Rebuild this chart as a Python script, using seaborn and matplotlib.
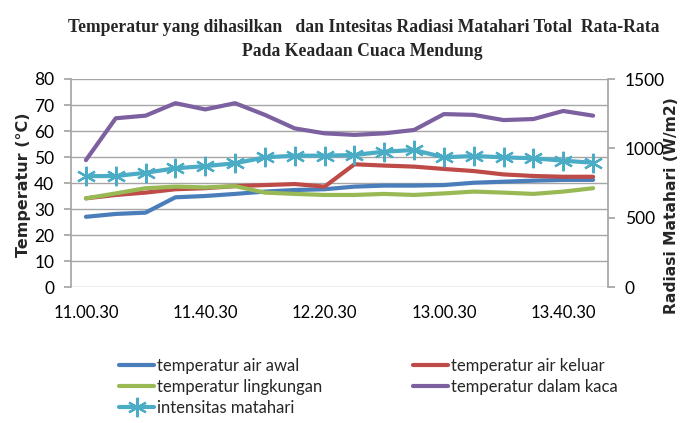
import numpy as np
import pandas as pd
import matplotlib
matplotlib.use('Agg')
import matplotlib.pyplot as plt
import seaborn as sns

# waktu pengukuran (tiap 10 menit)
waktu = ['11.00.30', '11.10.30', '11.20.30', '11.30.30', '11.40.30', '11.50.30',
         '12.00.30', '12.10.30', '12.20.30', '12.30.30', '12.40.30', '12.50.30',
         '13.00.30', '13.10.30', '13.20.30', '13.30.30', '13.40.30', '13.50.30']

air_awal = [27.0, 28.1, 28.6, 34.5, 35.0, 35.8, 36.7, 37.3, 37.6, 38.6, 39.0, 39.0,
            39.2, 40.1, 40.5, 40.9, 41.2, 41.2]
air_keluar = [34.1, 35.4, 36.3, 37.6, 38.0, 38.8, 39.2, 39.6, 38.6, 47.2, 46.7, 46.3,
              45.4, 44.6, 43.3, 42.7, 42.4, 42.4]
lingkungan = [34.1, 36.0, 38.0, 38.6, 38.3, 38.8, 36.3, 35.8, 35.4, 35.4, 35.8, 35.4,
              36.0, 36.7, 36.3, 35.8, 36.7, 38.0]
dalam_kaca = [48.8, 64.9, 65.9, 70.7, 68.3, 70.7, 66.2, 61.0, 59.1, 58.5, 59.1, 60.4,
              66.5, 66.2, 64.2, 64.6, 67.7, 65.9]
intensitas = [800, 800, 824, 856, 872, 892, 935, 947, 947, 952, 976, 988,
              935, 945, 935, 928, 911, 896]

idx = np.arange(len(waktu))

sns.set_theme(style='white')
plt.rcParams['font.family'] = ['Lato', 'DejaVu Sans']

fig = plt.figure(figsize=(6.86, 4.23), dpi=100)
ax = fig.add_axes([71/686, 1-287/423, 537/686, 208/423])
ax2 = ax.twinx()

lw = 3
sns.lineplot(x=idx, y=air_awal, ax=ax, color='#4A7EBB', lw=lw, label='temperatur air awal', legend=False)
sns.lineplot(x=idx, y=air_keluar, ax=ax, color='#BE4B48', lw=lw, label='temperatur air keluar', legend=False)
sns.lineplot(x=idx, y=lingkungan, ax=ax, color='#98B954', lw=lw, label='temperatur lingkungan', legend=False)
sns.lineplot(x=idx, y=dalam_kaca, ax=ax, color='#7D60A0', lw=lw, label='temperatur dalam kaca', legend=False)
sns.lineplot(x=idx, y=intensitas, ax=ax2, color='#4BACC6', lw=lw, marker=(6, 2, 0),
             markersize=14, markeredgewidth=1.6, markeredgecolor='#4BACC6',
             label='intensitas matahari', legend=False)

grid_c = '#A6A6A6'
ax.set_xlim(-0.5, len(waktu) - 0.5)
ax.set_ylim(0, 80)
ax.set_yticks(range(0, 81, 10))
ax2.set_ylim(0, 1500)
ax2.set_yticks([0, 500, 1000, 1500])
ax.set_xticks(idx[::4])
ax.set_xticklabels(waktu[::4])

ax.yaxis.grid(True, color=grid_c, lw=1)
ax.xaxis.grid(False)
ax2.grid(False)
for a in (ax, ax2):
    for s in a.spines.values():
        s.set_visible(False)
ax.spines['left'].set_visible(True)
ax.spines['left'].set_color(grid_c)
ax2.spines['right'].set_visible(True)
ax2.spines['right'].set_color(grid_c)

fs = 12
ax.tick_params(axis='y', left=True, length=5, color=grid_c, pad=7, labelsize=12.5)
ax.tick_params(axis='x', length=0, pad=13, labelsize=fs)
ax2.tick_params(axis='y', right=True, length=5, color=grid_c, pad=7, labelsize=12.5)
for t in ax.get_yticklabels() + ax2.get_yticklabels() + ax.get_xticklabels():
    t.set_color('black')

ax.set_ylabel('Temperatur (°C)', fontsize=11.5, fontweight='bold', family='DejaVu Sans')
ax.yaxis.set_label_coords(-0.074, 0.49)
ax2.set_ylabel('Radiasi Matahari (W/m2)', fontsize=11.2, fontweight='bold', family='DejaVu Sans')
ax2.yaxis.set_label_coords(1.104, 0.39)

fig.text(364/686, 1-28/423, 'Temperatur yang dihasilkan   dan Intesitas Radiasi Matahari Total  Rata-Rata',
         ha='center', va='center', fontsize=12.7, fontweight='bold', family='Liberation Serif')
fig.text(362/686, 1-52/423, 'Pada Keadaan Cuaca Mendung',
         ha='center', va='center', fontsize=12.7, fontweight='bold', family='Liberation Serif')

h1, l1 = ax.get_legend_handles_labels()
h2, l2 = ax2.get_legend_handles_labels()
hd = dict(zip(l1 + l2, h1 + h2))
urut = ['temperatur air awal', 'temperatur lingkungan', 'intensitas matahari',
        'temperatur air keluar', 'temperatur dalam kaca']
fig.legend([hd[k] for k in urut], urut, ncol=2, loc='upper left',
           bbox_to_anchor=(119/686, 1-358/423), frameon=False, fontsize=fs,
           handlelength=2.1, handletextpad=0.2, labelspacing=0.3,
           columnspacing=5.4, borderpad=0, borderaxespad=0)

fig.savefig('out.png', dpi=100)
